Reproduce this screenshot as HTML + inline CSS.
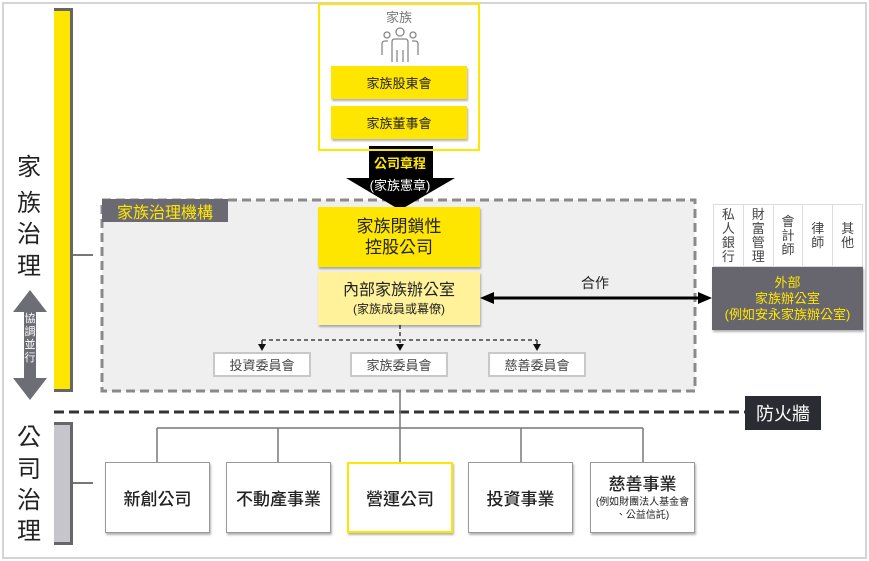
<!DOCTYPE html>
<html><head><meta charset="utf-8"><style>
*{margin:0;padding:0;box-sizing:border-box}
body{width:869px;height:561px;background:#fff;position:relative;overflow:hidden;font-family:"Liberation Sans","Noto Sans CJK TC",sans-serif}
.a{position:absolute}
.c{display:flex;align-items:center;justify-content:center;text-align:center;flex-direction:column}
.sh{box-shadow:1px 2px 2px rgba(0,0,0,.3)}
.big{font-size:24px;color:#222;line-height:30px;width:40px;text-align:center}
.col{flex:1;font-size:13px;line-height:14px;color:#444}
</style></head><body>
<div class="a" style="left:2px;top:2px;width:865px;height:557px;border:2px solid #d4d4d4"></div>
<svg class="a" style="left:0;top:0" width="869" height="561">
<rect x="102" y="200" width="593" height="191" fill="#efefef" stroke="#8a8a8a" stroke-width="3" stroke-dasharray="9,5"/>
<line x1="54" y1="412" x2="745" y2="412" stroke="#333" stroke-width="3" stroke-dasharray="10,5"/>
<line x1="73" y1="255" x2="93" y2="255" stroke="#777" stroke-width="2"/>
<line x1="73" y1="483" x2="93" y2="483" stroke="#777" stroke-width="2"/>
<polygon points="30,290 47,312 36,312 36,378 47,378 30,400 13,378 24,378 24,312 13,312" fill="#6d6d75"/>
<polygon points="369,146 433,146 433,178 455,178 400,210 346,178 369,178" fill="#000"/>
<g stroke="#222" stroke-width="1.3" stroke-dasharray="4,3" fill="none">
<line x1="400" y1="325" x2="400" y2="345"/><line x1="262" y1="340" x2="537" y2="340"/>
<line x1="262" y1="340" x2="262" y2="345"/><line x1="537" y1="340" x2="537" y2="345"/></g>
<g fill="#111"><polygon points="258,344 266,344 262,351"/><polygon points="396,344 404,344 400,351"/><polygon points="533,344 541,344 537,351"/></g>
<line x1="490" y1="298" x2="702" y2="298" stroke="#000" stroke-width="3"/>
<polygon points="480,298 494,292 494,304" fill="#000"/><polygon points="712,298 698,292 698,304" fill="#000"/>
<g stroke="#777" stroke-width="1.5" fill="none">
<line x1="400" y1="391" x2="400" y2="462"/><line x1="157" y1="428" x2="643" y2="428"/>
<line x1="157" y1="428" x2="157" y2="462"/><line x1="278" y1="428" x2="278" y2="462"/>
<line x1="521" y1="428" x2="521" y2="462"/><line x1="643" y1="428" x2="643" y2="462"/></g>
<g stroke="#888" stroke-width="1.3" fill="none">
<circle cx="400" cy="32" r="4"/><circle cx="387" cy="35" r="3"/><circle cx="413" cy="35" r="3"/>
<path d="M392 62 V42 Q392 39 395 39 H405 Q408 39 408 42 V62"/><path d="M397 50 V62 M403 50 V62"/>
<path d="M382 55 V44 Q382 41 385 41 H388"/><path d="M418 55 V44 Q418 41 415 41 H412"/></g>
</svg>
<div class="a" style="left:54px;top:8px;width:19px;height:384px;background:#ffe600;border-top:3px solid #666;border-right:3px solid #666;border-bottom:3px solid #666"></div>
<div class="a" style="left:54px;top:422px;width:19px;height:123px;background:#c5c5cb;border-top:3px solid #666;border-right:3px solid #666;border-bottom:3px solid #666"></div>
<div class="a big" style="left:9px;top:153px">家</div>
<div class="a big" style="left:9px;top:189px">族</div>
<div class="a big" style="left:9px;top:220px">治</div>
<div class="a big" style="left:9px;top:252px">理</div>
<div class="a big" style="left:9px;top:423px">公</div>
<div class="a big" style="left:9px;top:455px">司</div>
<div class="a big" style="left:9px;top:486px">治</div>
<div class="a big" style="left:9px;top:517px">理</div>
<div class="a" style="left:23px;top:313px;width:14px;font-size:11px;line-height:13px;color:#fff;text-align:center">協調並行</div>
<div class="a" style="left:318px;top:3px;width:162px;height:148px;border:2px solid #ffe600"></div>
<div class="a" style="left:318px;top:7px;width:162px;text-align:center;font-size:13px;color:#777">家族</div>
<div class="a c sh" style="left:331px;top:66px;width:136px;height:33px;background:#ffe600;font-size:13px;color:#222">家族股東會</div>
<div class="a c sh" style="left:331px;top:106px;width:136px;height:33px;background:#ffe600;font-size:13px;color:#222">家族董事會</div>
<div class="a" style="left:360px;top:153px;width:80px;text-align:center;font-size:13px;font-weight:bold;color:#ffe600">公司章程</div>
<div class="a" style="left:360px;top:175px;width:80px;text-align:center;font-size:13px;color:#fff">(家族憲章)</div>
<div class="a c" style="left:102px;top:199px;width:126px;height:23px;background:#6b6a72;color:#ffe600;font-size:16px">家族治理機構</div>
<div class="a c sh" style="left:318px;top:207px;width:162px;height:60px;background:#ffe600;font-size:17px;line-height:21px;color:#222">家族閉鎖性<br>控股公司</div>
<div class="a c sh" style="left:318px;top:272px;width:162px;height:53px;background:#fff29a;color:#222"><div style="font-size:16px;line-height:20px">內部家族辦公室</div><div style="font-size:12px;line-height:16px">(家族成員或幕僚)</div></div>
<div class="a" style="left:570px;top:273px;width:50px;text-align:center;font-size:14px;color:#222">合作</div>
<div class="a c" style="left:213px;top:352px;width:98px;height:25px;background:#fff;border:2px solid #c8c8c8;font-size:13px;color:#444">投資委員會</div>
<div class="a c" style="left:350px;top:352px;width:98px;height:25px;background:#fff;border:2px solid #c8c8c8;font-size:13px;color:#444">家族委員會</div>
<div class="a c" style="left:488px;top:352px;width:98px;height:25px;background:#fff;border:2px solid #c8c8c8;font-size:13px;color:#444">慈善委員會</div>
<div class="a" style="left:713px;top:204px;width:150px;height:63px;display:flex;border:1px solid #ddd">
<div class="c col" style="border-right:1px solid #ddd;justify-content:flex-start;padding-top:3px">私<br>人<br>銀<br>行</div>
<div class="c col" style="border-right:1px solid #ddd;justify-content:flex-start;padding-top:3px">財<br>富<br>管<br>理</div>
<div class="c col" style="border-right:1px solid #ddd">會<br>計<br>師</div>
<div class="c col" style="border-right:1px solid #ddd">律<br>師</div>
<div class="c col">其<br>他</div></div>
<div class="a c sh" style="left:712px;top:267px;width:151px;height:63px;background:#67666e;color:#ffe600;font-size:13px;line-height:16px">外部<br>家族辦公室<br>(例如安永家族辦公室)</div>
<div class="a c" style="left:745px;top:396px;width:76px;height:34px;background:#2b2b33;color:#fff;font-size:18px">防火牆</div>
<div class="a c sh" style="left:105px;top:462px;width:105px;height:71px;background:#fff;border:1px solid #999;font-size:17px;font-weight:500;color:#222">新創公司</div>
<div class="a c sh" style="left:226px;top:462px;width:105px;height:71px;background:#fff;border:1px solid #999;font-size:17px;font-weight:500;color:#222">不動產事業</div>
<div class="a c sh" style="left:347px;top:462px;width:106px;height:71px;background:#fff;border:2px solid #ffe600;font-size:17px;font-weight:500;color:#222">營運公司</div>
<div class="a c sh" style="left:468px;top:462px;width:105px;height:71px;background:#fff;border:1px solid #999;font-size:17px;font-weight:500;color:#222">投資事業</div>
<div class="a c sh" style="left:590px;top:462px;width:105px;height:71px;background:#fff;border:1px solid #999;color:#222"><div style="font-size:17px;line-height:22px;font-weight:500">慈善事業</div><div style="font-size:10px;line-height:13px;white-space:nowrap">(例如財團法人基金會<br>、公益信託)</div></div>
</body></html>
